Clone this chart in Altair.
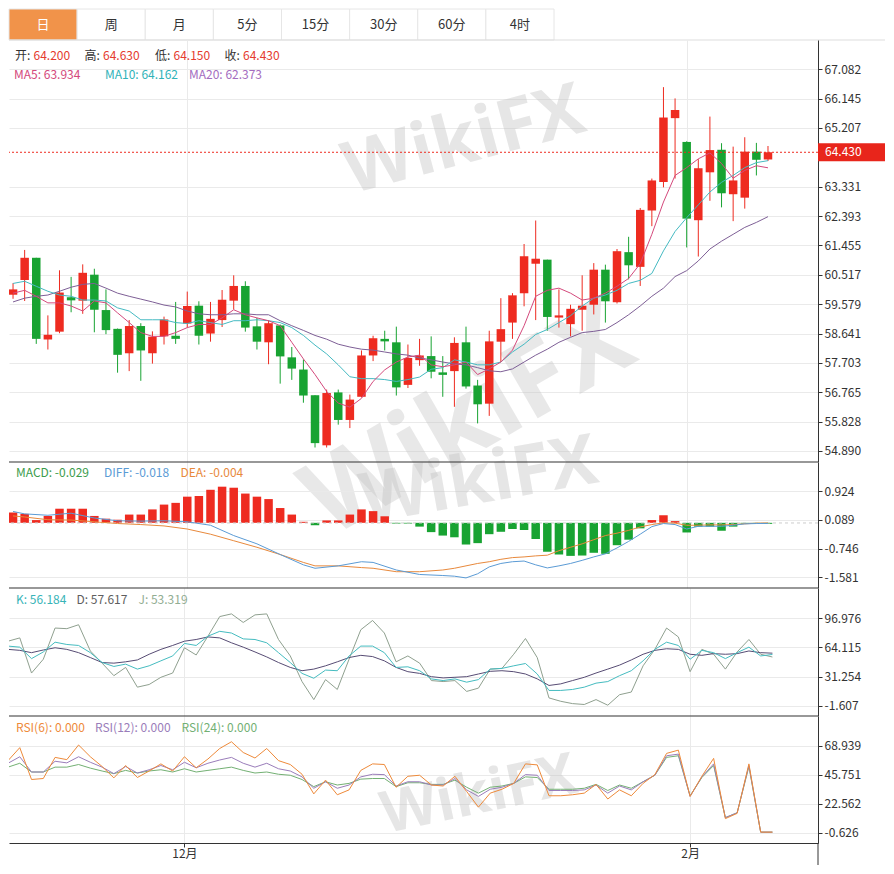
import altair as alt
import pandas as pd

FONT = "Noto Sans CJK SC"

# ---------------- data ----------------
idx = list(range(66))
opens = [59.88, 60.35, 61.06, 58.45, 58.70, 59.80, 59.69, 60.52, 59.39, 58.79,
         58.01, 58.88, 58.01, 58.55, 58.57, 58.96, 59.53, 58.64, 59.07, 59.69,
         60.16, 58.87, 58.36, 58.90, 57.88, 57.49, 56.67, 55.07, 56.76, 55.88,
         56.62, 57.94, 58.47, 58.36, 57.00, 57.79, 57.92, 57.40, 57.44, 58.36,
         56.98, 56.40, 58.38, 58.99, 59.93, 60.87, 61.00, 59.15, 58.94, 59.40,
         59.56, 60.68, 59.64, 61.24, 60.77, 62.57, 63.48, 65.52, 64.76, 62.26,
         63.79, 64.51, 63.09, 62.98, 64.45, 64.20]
highs = [60.25, 61.31, 61.06, 59.22, 60.66, 60.45, 60.85, 60.71, 60.05, 58.80,
         59.07, 58.97, 58.71, 59.18, 59.65, 59.98, 59.67, 59.65, 60.03, 60.50,
         60.31, 59.14, 59.07, 58.93, 58.21, 57.81, 56.67, 56.85, 56.85, 56.69,
         58.10, 58.57, 58.73, 58.86, 58.29, 58.47, 58.55, 57.92, 58.52, 58.86,
         57.16, 58.73, 59.77, 59.93, 61.50, 62.25, 61.00, 60.05, 59.56, 60.50,
         60.89, 60.84, 61.34, 61.73, 62.65, 63.59, 66.51, 66.15, 64.78, 64.21,
         65.57, 64.72, 64.61, 64.91, 64.73, 64.63]
lows = [59.75, 59.68, 58.31, 58.13, 58.65, 59.32, 59.27, 58.68, 58.62, 57.39,
        57.44, 57.13, 57.68, 58.29, 58.31, 58.83, 58.29, 58.38, 58.85, 59.41,
        58.70, 58.13, 57.66, 57.04, 57.16, 56.43, 55.00, 55.00, 55.73, 55.62,
        56.60, 57.76, 58.10, 56.66, 56.90, 57.61, 57.21, 56.62, 56.30, 56.88,
        55.77, 56.01, 57.73, 58.47, 59.51, 59.07, 58.73, 58.83, 58.55, 58.73,
        59.25, 58.99, 59.60, 60.37, 60.16, 62.07, 63.31, 63.59, 61.39, 61.10,
        62.88, 62.67, 62.23, 62.63, 63.69, 64.15]
closes = [60.05, 61.06, 58.47, 58.60, 59.95, 59.70, 60.58, 59.40, 58.75, 57.96,
          58.88, 58.10, 58.54, 59.09, 58.47, 59.52, 58.57, 59.11, 59.72, 60.16,
          58.83, 58.38, 58.97, 57.91, 57.52, 56.66, 55.14, 56.74, 55.88, 56.53,
          57.94, 58.49, 58.39, 56.92, 57.86, 57.94, 57.42, 57.32, 58.34, 56.95,
          56.38, 58.39, 58.78, 59.86, 61.11, 61.03, 59.17, 59.22, 59.43, 59.53,
          60.68, 59.67, 61.27, 60.82, 62.59, 63.53, 65.54, 65.78, 62.31, 63.92,
          64.50, 63.12, 63.53, 64.45, 64.19, 64.43]
ma5 = [59.93, 60.02, 59.83, 59.62, 59.62, 59.52, 59.36, 59.68, 59.62, 59.30,
       58.99, 58.67, 58.55, 58.55, 58.67, 58.83, 58.93, 58.93, 59.14, 59.40,
       59.24, 59.14, 59.05, 58.89, 58.36, 57.83, 57.33, 56.79, 56.42, 56.29,
       56.57, 57.11, 57.48, 57.73, 57.89, 57.95, 57.64, 57.58, 57.64, 57.73,
       57.33, 57.51, 57.73, 58.11, 58.89, 59.83, 60.02, 60.09, 59.93, 59.71,
       59.77, 59.93, 60.15, 60.40, 60.87, 61.81, 62.84, 63.69, 63.94, 64.22,
       64.41, 64.07, 63.60, 63.85, 64.00, 63.934]
ma10 = [60.24, 60.31, 60.15, 59.99, 59.87, 59.83, 59.71, 59.71, 59.68, 59.46,
        59.36, 59.08, 59.08, 59.08, 58.99, 58.96, 59.05, 58.99, 58.93, 59.05,
        59.05, 59.08, 59.05, 58.99, 58.83, 58.58, 58.27, 57.99, 57.64, 57.26,
        57.20, 57.20, 57.17, 57.11, 57.17, 57.25, 57.50, 57.55, 57.80, 57.73,
        57.64, 57.64, 57.73, 58.05, 58.30, 58.61, 58.77, 58.99, 59.21, 59.52,
        59.77, 59.87, 60.02, 60.24, 60.34, 60.56, 61.28, 61.90, 62.34, 62.75,
        63.16, 63.47, 63.69, 63.94, 64.10, 64.162]
ma20 = [59.65, 59.77, 59.83, 59.87, 59.99, 60.12, 60.21, 60.24, 60.09, 59.93,
        59.83, 59.74, 59.65, 59.55, 59.49, 59.36, 59.27, 59.24, 59.24, 59.27,
        59.27, 59.24, 59.24, 59.05, 58.89, 58.74, 58.58, 58.46, 58.30, 58.21,
        58.14, 58.11, 58.05, 57.99, 57.95, 57.86, 57.80, 57.73, 57.67, 57.64,
        57.55, 57.45, 57.42, 57.51, 57.73, 57.95, 58.14, 58.36, 58.52, 58.67,
        58.71, 58.77, 58.99, 59.24, 59.52, 59.83, 60.09, 60.46, 60.65, 60.96,
        61.34, 61.59, 61.81, 62.03, 62.19, 62.373]
macd = [0.30, 0.26, 0.08, 0.20, 0.41, 0.41, 0.41, 0.20, 0.12, 0.09,
        0.24, 0.24, 0.39, 0.53, 0.58, 0.76, 0.78, 0.96, 1.05, 1.02,
        0.85, 0.76, 0.69, 0.43, 0.24, 0.03, -0.07, 0.07, 0.07, 0.24,
        0.39, 0.34, 0.19, -0.02, -0.02, -0.11, -0.27, -0.37, -0.42, -0.63,
        -0.59, -0.33, -0.26, -0.18, -0.21, -0.47, -0.84, -0.92, -0.96, -0.95,
        -0.87, -0.90, -0.65, -0.49, -0.16, 0.08, 0.22, 0.05, -0.28, -0.11,
        -0.11, -0.23, -0.11, -0.02, -0.01, -0.029]
line_i = [0, 1, 3, 5, 7, 9, 11, 13, 15, 17, 19, 21, 23, 25, 26, 28, 30, 31, 33, 35, 37,
          38, 39, 40, 41, 42, 43, 44, 45, 46, 47, 48, 49, 50, 51, 52, 53, 54, 55,
          56, 57, 58, 59, 60, 61, 62, 63, 64, 65]
diff_v = [0.33, 0.26, 0.22, 0.28, 0.14, 0.06, 0.05, 0.06, 0.03, -0.07, -0.37, -0.61,
          -0.92, -1.22, -1.32, -1.25, -1.13, -1.15, -1.37, -1.50, -1.53,
          -1.55, -1.60, -1.48, -1.28, -1.18, -1.13, -1.11, -1.22, -1.31, -1.25, -1.18,
          -1.09, -0.99, -0.90, -0.73, -0.54, -0.33, -0.11,
          -0.02, -0.05, -0.18, -0.10, -0.10, -0.10, -0.07, -0.03, -0.02, -0.018]
dea_v = [0.20, 0.17, 0.09, 0.08, 0.03, -0.02, -0.05, -0.09, -0.18, -0.33, -0.52, -0.71,
         -0.92, -1.15, -1.25, -1.25, -1.30, -1.32, -1.42, -1.42, -1.37,
         -1.32, -1.25, -1.18, -1.13, -1.06, -1.01, -0.99, -0.96, -0.94, -0.81, -0.71,
         -0.61, -0.49, -0.37, -0.30, -0.22, -0.12, -0.05,
         0.00, -0.01, -0.07, -0.07, -0.06, -0.06, -0.05, -0.03, -0.01, -0.004]
k_vals = [65.6, 64.4, 51.5, 59.0, 70.0, 67.4, 66.3, 58.2, 47.1, 42.7,
          45.3, 39.7, 43.4, 49.0, 54.5, 68.6, 66.3, 76.7, 82.2, 80.3,
          73.7, 73.0, 69.3, 58.2, 47.1, 34.9, 29.4, 38.6, 37.9, 54.5,
          65.6, 65.6, 58.2, 41.6, 42.3, 37.9, 28.7, 26.8, 28.7, 25.0,
          27.9, 39.7, 40.5, 43.4, 46.0, 34.2, 15.7, 15.7, 16.8, 19.4,
          23.9, 25.7, 32.3, 37.9, 49.0, 61.9, 70.0, 66.3, 50.8, 60.8,
          58.2, 51.5, 58.2, 64.4, 54.5, 56.184]
d_vals = [61.9, 60.8, 58.2, 61.2, 63.7, 61.9, 58.2, 52.7, 47.1, 46.4,
          47.9, 50.0, 56.4, 61.9, 66.3, 71.1, 73.0, 75.9, 74.8, 69.3,
          64.4, 59.0, 53.4, 47.1, 41.6, 37.9, 39.7, 43.4, 47.9, 52.7,
          55.2, 53.8, 49.0, 41.6, 36.8, 34.9, 31.2, 29.8, 30.5, 31.2,
          34.2, 37.2, 37.9, 36.8, 34.2, 28.7, 21.3, 23.1, 26.8, 30.5,
          35.3, 39.7, 44.2, 50.0, 56.4, 60.8, 62.6, 61.9, 56.4, 55.2,
          57.1, 56.4, 57.1, 60.1, 58.2, 57.617]
j_vals = [71.1, 74.8, 35.3, 50.8, 85.9, 85.2, 89.6, 60.1, 46.4, 32.3,
          41.6, 19.4, 22.4, 30.5, 35.3, 63.7, 55.6, 76.7, 98.8, 101.8,
          92.2, 100.7, 101.8, 73.0, 54.5, 25.7, 5.4, 27.9, 16.8, 50.8,
          84.0, 94.4, 80.3, 47.9, 54.5, 46.4, 26.8, 25.7, 26.8, 14.6,
          18.3, 39.7, 40.5, 56.4, 74.1, 52.7, 7.3, 3.5, 0.9, -0.1,
          5.4, -0.9, 10.9, 13.9, 43.4, 61.9, 85.9, 75.9, 36.8, 61.9,
          56.4, 39.7, 59.0, 73.0, 56.4, 53.319]
rsi6 = [57.2, 67.6, 42.1, 42.9, 59.8, 58.0, 69.7, 60.3, 52.5, 43.4,
        53.3, 43.7, 48.9, 54.6, 48.9, 60.3, 51.5, 58.5, 66.9, 72.3,
        63.7, 59.3, 66.9, 57.2, 54.1, 46.3, 30.6, 41.6, 29.9, 33.8,
        49.4, 54.6, 54.1, 35.9, 44.7, 45.5, 37.7, 36.9, 44.7, 32.5,
        20.0, 31.2, 34.3, 39.0, 54.6, 53.8, 29.1, 29.1, 29.9, 31.2,
        38.2, 26.5, 33.8, 29.1, 39.0, 46.0, 63.0, 65.6, 28.6, 44.7,
        59.0, 10.8, 15.0, 54.6, 0.0, 0.0]
rsi12 = [55.1, 60.3, 48.1, 48.1, 56.7, 55.4, 60.3, 55.9, 52.0, 46.8,
         52.5, 47.3, 49.9, 53.3, 49.9, 55.9, 51.5, 55.1, 57.7, 59.8,
         55.1, 52.0, 55.1, 50.7, 48.9, 44.2, 35.1, 40.3, 35.1, 37.7,
         44.2, 46.3, 46.0, 36.9, 40.3, 40.3, 37.7, 37.7, 42.9, 33.8,
         28.6, 34.3, 35.9, 39.0, 46.0, 45.5, 33.3, 33.3, 33.3, 33.8,
         37.7, 31.2, 36.9, 33.8, 40.3, 45.5, 61.1, 62.4, 28.6, 44.2,
         54.6, 11.6, 15.5, 53.3, 0.0, 0.0]
rsi24 = [52.0, 55.1, 48.1, 48.1, 52.0, 52.0, 54.1, 51.2, 48.9, 46.8,
         49.4, 47.3, 48.9, 49.9, 48.1, 50.7, 48.1, 49.4, 50.7, 52.0,
         49.4, 47.3, 48.1, 46.3, 45.5, 42.1, 36.4, 40.3, 37.7, 39.0,
         42.4, 42.9, 42.9, 36.4, 39.5, 39.5, 38.2, 38.2, 41.6, 35.9,
         31.2, 35.9, 36.9, 39.0, 44.2, 43.7, 34.3, 34.3, 34.3, 35.1,
         38.2, 33.3, 37.7, 35.1, 40.3, 45.5, 59.8, 61.1, 29.1, 43.7,
         53.3, 11.6, 15.5, 52.5, 0.0, 0.0]

tabs = ["日", "周", "月", "5分", "15分", "30分", "60分", "4时"]
selected_tab = "日"
price_ticks = [54.890, 55.828, 56.765, 57.703, 58.641, 59.579, 60.517, 61.455,
               62.393, 63.331, 65.207, 66.145, 67.082]
macd_ticks = [-1.581, -0.746, 0.089, 0.924]
kdj_ticks = [-1.607, 31.254, 64.115, 96.976]
rsi_ticks = [-0.626, 22.562, 45.751, 68.939]
month_pos = [15, 58]
month_labels = ["12月", "2月"]

# ---------------- layout / style ----------------
W = 809
TAB_W = 876
TAB_H, MAIN_H, MACD_H, KDJ_H, RSI_H = 31, 422, 126, 128, 127
BOX_W = 67
BAR_W = 8.5

RED = "#EE2B20"
GREEN = "#18A332"
DARK = "#333333"
GRID = "#EAEAEA"
ORANGE = "#F1934A"
MA5C, MA10C, MA20C = "#D4497C", "#45BAC2", "#7E5F96"
DIFFC, DEAC, MACDC = "#5B9BD5", "#E8893C", "#3C9C4C"
KC, DC, JC = "#45BCC0", "#574C74", "#8FA08F"
R6C, R12C, R24C = "#EE8A3A", "#9A7DBA", "#73B073"
WM = "#C4C4C4"

df = pd.DataFrame({"i": idx, "open": opens, "high": highs, "low": lows, "close": closes,
                   "ma5": ma5, "ma10": ma10, "ma20": ma20, "macd": macd,
                   "k": k_vals, "d": d_vals, "j": j_vals,
                   "rsi6": rsi6, "rsi12": rsi12, "rsi24": rsi24})
line_df = pd.DataFrame({"i": line_i, "diff": diff_v, "dea": dea_v})
one = pd.DataFrame({"a": [0]})
last = pd.DataFrame({"p": [closes[-1]], "m": [dea_v[-1]]})

x_scale = alt.Scale(domain=[0.083, 68.875], nice=False, zero=False)
month_expr = " : ".join(f"datum.value == {p} ? '{l}'" for p, l in zip(month_pos, month_labels)) + " : ''"

X_HID = alt.X("i:Q", scale=x_scale, axis=alt.Axis(values=month_pos, labels=False, ticks=False,
                                                    domain=False, grid=True, gridColor=GRID, title=None))
X_BOT = alt.X("i:Q", scale=x_scale, axis=alt.Axis(values=month_pos, labelExpr=month_expr, grid=True,
                                                    gridColor=GRID, domain=True, domainColor=DARK,
                                                    domainWidth=1.2, ticks=True, tickColor=DARK,
                                                    tickSize=4, labelColor=DARK, labelFontSize=12,
                                                    labelFont=FONT, labelPadding=1, title=None,
                                                    labelFlush=False, labelOverlap=False))


def y_axis(ticks):
    return alt.Axis(orient="right", values=ticks,
                    labelExpr="replace(format(datum.value, '.3f'), '\u2212', '-')",
                    grid=True, gridColor=GRID, domain=True, domainColor=DARK, ticks=True,
                    tickColor=DARK, tickSize=4, labelColor=DARK, labelFontSize=12,
                    labelFont=FONT, labelPadding=2, title=None, labelFlush=False,
                    labelOverlap=False, labelBound=False)


def txt(s, x, y, color, size=12, **kw):
    return alt.Chart(one).mark_text(align="left", baseline="middle", font=FONT, fontSize=size,
                                    color=color, clip=False, **kw).encode(
        x=alt.value(x), y=alt.value(y), text=alt.value(s))


def wm_text(x, y, angle, size, opacity=0.42):
    return alt.Chart(one).mark_text(align="center", baseline="middle", font="Open Sans",
                                    fontWeight="bold", fontSize=size, color=WM, opacity=opacity,
                                    angle=angle, clip=False).encode(
        x=alt.value(x), y=alt.value(y), text=alt.value("WikiFX"))


def separator():
    return alt.Chart(one).mark_rule(color=DARK, strokeWidth=1.2).encode(
        x=alt.value(0), x2=alt.value(W), y=alt.value(0))


# ---------------- tab bar ----------------
tab_df = pd.DataFrame({"tab": tabs, "sel": [t == selected_tab for t in tabs]})
tx = alt.X("tab:N", sort=tabs, axis=None,
           scale=alt.Scale(domain=tabs, range=[0, 545], paddingInner=0, paddingOuter=0))
tab_rect = alt.Chart(tab_df).mark_rect(stroke="#E6E6E6", strokeWidth=1).encode(
    x=tx, fill=alt.condition("datum.sel", alt.value(ORANGE), alt.value("#FFFFFF")))
tab_text = alt.Chart(tab_df).mark_text(font=FONT, fontSize=13, baseline="middle").encode(
    x=tx, y=alt.value(TAB_H / 2), text="tab:N",
    color=alt.condition("datum.sel", alt.value("#FFFFFF"), alt.value(DARK)))
tab_line = alt.Chart(one).mark_rule(color="#DDDDDD", strokeWidth=1).encode(
    x=alt.value(0), x2=alt.value(TAB_W), y=alt.value(TAB_H))
tab_bar = alt.layer(tab_rect, tab_text, tab_line).properties(width=TAB_W, height=TAB_H)

# ---------------- main candle panel ----------------
price_scale = alt.Scale(domain=[54.537, 68.016], nice=False, zero=False)


def PY(field):
    return alt.Y(f"{field}:Q", scale=price_scale, axis=y_axis(price_ticks))


base = alt.Chart(df)
up_f = "datum.close >= datum.open"
dn_f = "datum.close < datum.open"
main_layers = [
    wm_text(455, 101, 345, 72),
    wm_text(460, 381, 330, 105, 0.38),
    base.transform_filter(up_f).mark_rule(color=RED, strokeWidth=1, clip=True).encode(
        x=X_HID, y=PY("low"), y2=alt.Y2("high:Q")),
    base.transform_filter(dn_f).mark_rule(color=GREEN, strokeWidth=1, clip=True).encode(
        x=X_HID, y=PY("low"), y2=alt.Y2("high:Q")),
    base.transform_filter(up_f).mark_bar(size=BAR_W, color=RED, clip=True).encode(
        x=X_HID, y=PY("open"), y2=alt.Y2("close:Q")),
    base.transform_filter(dn_f).mark_bar(size=BAR_W, color=GREEN, clip=True).encode(
        x=X_HID, y=PY("open"), y2=alt.Y2("close:Q")),
    base.mark_line(color=MA20C, strokeWidth=1, clip=True).encode(x=X_HID, y=PY("ma20")),
    base.mark_line(color=MA10C, strokeWidth=1, clip=True).encode(x=X_HID, y=PY("ma10")),
    base.mark_line(color=MA5C, strokeWidth=1, clip=True).encode(x=X_HID, y=PY("ma5")),
    alt.Chart(last).mark_rule(color=RED, strokeDash=[2, 2], strokeWidth=1).encode(y=PY("p")),
    alt.Chart(last).mark_rect(color="#E8251B", clip=False, yOffset=-9, y2Offset=9).encode(
        x=alt.value(W), x2=alt.value(W + BOX_W), y=PY("p"), y2=alt.Y2("p:Q")),
    alt.Chart(last).mark_text(align="left", baseline="middle", color="#FFFFFF", font=FONT,
                              fontSize=12, clip=False).encode(
        x=alt.value(W + 7), y=PY("p"), text=alt.Text("p:Q", format=".3f")),
]
hdr_vals = [("开:", opens[-1]), ("高:", highs[-1]), ("低:", lows[-1]), ("收:", closes[-1])]
for (lab, v), lx in zip(hdr_vals, [6, 75.5, 146, 215.5]):
    main_layers.append(txt(lab, lx, 16, DARK))
    main_layers.append(txt(f"{v:.3f}", lx + 18.5, 16, "#E53A2E"))
for s, c, lx in [(f"MA5: {ma5[-1]:.3f}", MA5C, 5), (f"MA10: {ma10[-1]:.3f}", "#2FB3B8", 96),
                 (f"MA20: {ma20[-1]:.3f}", "#A46CC0", 180)]:
    main_layers.append(txt(s, lx, 35, c))
main = alt.layer(*main_layers).properties(width=W, height=MAIN_H)

# ---------------- MACD panel ----------------
macd_scale = alt.Scale(domain=[-1.893, 1.767], nice=False, zero=False)


def MY(field):
    return alt.Y(f"{field}:Q", scale=macd_scale, axis=y_axis(macd_ticks))


macd_layers = [
    wm_text(470, 20, 350, 70),
    base.transform_filter("datum.macd >= 0").mark_bar(size=BAR_W, color=RED, clip=True).encode(
        x=X_HID, y=MY("macd"), y2=alt.datum(0)),
    base.transform_filter("datum.macd < 0").mark_bar(size=BAR_W, color=GREEN, clip=True).encode(
        x=X_HID, y=MY("macd"), y2=alt.datum(0)),
    alt.Chart(last).mark_rule(color="#CCCCCC", strokeDash=[3, 3], strokeWidth=1).encode(y=MY("m")),
    alt.Chart(line_df).mark_line(color=DEAC, strokeWidth=1, clip=True).encode(x=X_HID, y=MY("dea")),
    alt.Chart(line_df).mark_line(color=DIFFC, strokeWidth=1, clip=True).encode(x=X_HID, y=MY("diff")),
    separator(),
    txt(f"MACD: {macd[-1]:.3f}", 7, 10.5, MACDC),
    txt(f"DIFF: {diff_v[-1]:.3f}", 95, 10.5, DIFFC),
    txt(f"DEA: {dea_v[-1]:.3f}", 171.5, 10.5, DEAC),
]
macd_panel = alt.layer(*macd_layers).properties(width=W, height=MACD_H)

# ---------------- KDJ panel ----------------
kdj_scale = alt.Scale(domain=[-13.05, 130.94], nice=False, zero=False)


def KY(field):
    return alt.Y(f"{field}:Q", scale=kdj_scale, axis=y_axis(kdj_ticks))


kdj_layers = [
    base.mark_line(color=JC, strokeWidth=1, clip=True).encode(x=X_HID, y=KY("j")),
    base.mark_line(color=DC, strokeWidth=1, clip=True).encode(x=X_HID, y=KY("d")),
    base.mark_line(color=KC, strokeWidth=1, clip=True).encode(x=X_HID, y=KY("k")),
    separator(),
    txt(f"K: {k_vals[-1]:.3f}", 7, 11.5, "#38B4B8"),
    txt(f"D: {d_vals[-1]:.3f}", 67.5, 11.5, "#5E5E5E"),
    txt(f"J: {j_vals[-1]:.3f}", 129.5, 11.5, "#92AD92"),
]
kdj_panel = alt.layer(*kdj_layers).properties(width=W, height=KDJ_H)

# ---------------- RSI panel ----------------
rsi_scale = alt.Scale(domain=[-8.70, 92.91], nice=False, zero=False)


def RY(field):
    return alt.Y(f"{field}:Q", scale=rsi_scale, axis=y_axis(rsi_ticks))


rsi_layers = [
    wm_text(470, 80, 348, 58),
    base.mark_line(color=R24C, strokeWidth=1, clip=True).encode(x=X_BOT, y=RY("rsi24")),
    base.mark_line(color=R12C, strokeWidth=1, clip=True).encode(x=X_BOT, y=RY("rsi12")),
    base.mark_line(color=R6C, strokeWidth=1, clip=True).encode(x=X_BOT, y=RY("rsi6")),
    separator(),
    alt.Chart(one).mark_rule(color=DARK, strokeWidth=1, clip=False).encode(
        x=alt.value(W), y=alt.value(RSI_H), y2=alt.value(RSI_H + 22)),
    txt(f"RSI(6): {rsi6[-1]:.3f}", 7, 11.5, R6C),
    txt(f"RSI(12): {rsi12[-1]:.3f}", 86, 11.5, R12C),
    txt(f"RSI(24): {rsi24[-1]:.3f}", 172.5, 11.5, R24C),
]
rsi_panel = alt.layer(*rsi_layers).properties(width=W, height=RSI_H)

chart = alt.vconcat(tab_bar, main, macd_panel, kdj_panel, rsi_panel, spacing=0, bounds="flush")
chart = chart.resolve_scale(x="independent", y="independent").properties(padding=0)
chart = chart.configure(font=FONT).configure_view(stroke=None)

chart.save("out.html", embed_options={"renderer": "svg", "actions": False})
